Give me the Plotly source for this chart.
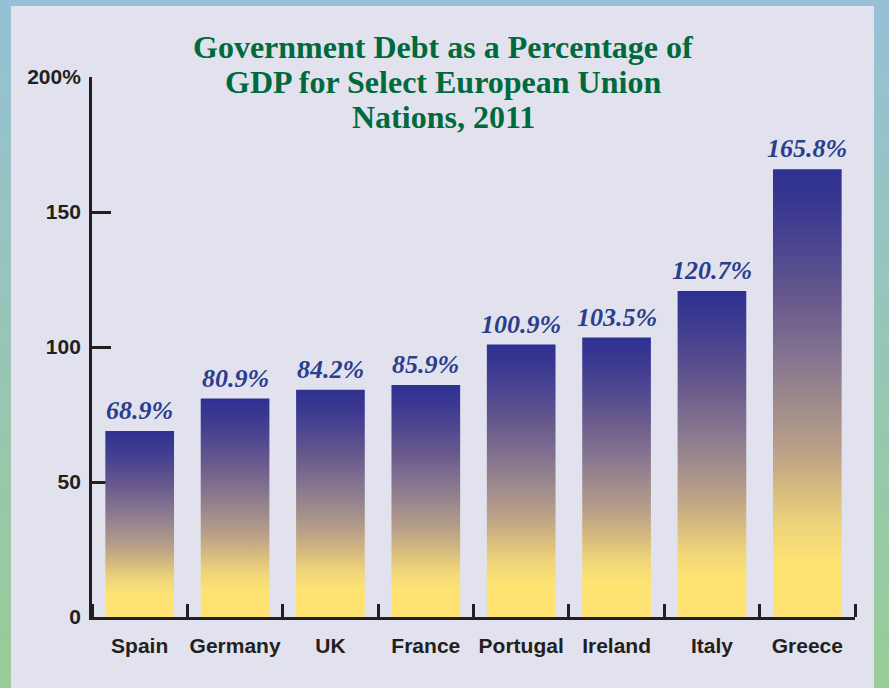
import plotly.graph_objects as go

countries = ["Spain", "Germany", "UK", "France", "Portugal", "Ireland", "Italy", "Greece"]
debt_pct = [68.9, 80.9, 84.2, 85.9, 100.9, 103.5, 120.7, 165.8]
y_tickvals = [0, 50, 100, 150, 200]
y_ticktext = ["0", "50", "100", "150", "200%"]
title_lines = ["Government Debt as a Percentage of", "GDP for Select European Union", "Nations, 2011"]

W, H = 889, 688
AXIS_COLOR = "#231f20"
bar_scale = [
    [0.0, "#fee373"], [0.12, "#fee373"], [0.2, "#efd57a"], [0.28, "#d8bc7e"],
    [0.38, "#b89f88"], [0.48, "#9d8a8c"], [0.58, "#857490"], [0.7, "#6a5b8c"],
    [0.82, "#4e4790"], [0.92, "#3a3890"], [1.0, "#2e3192"],
]

fig = go.Figure()

# background (full paper) on x/y
fig.add_trace(go.Scatter(
    x=[0, 1, 1, 0, 0], y=[0, 0, 1, 1, 0], mode="lines", line=dict(width=0),
    fill="toself", fillgradient=dict(type="vertical", start=0, stop=1,
                                     colorscale=[[0, "#9acb97"], [1, "#96c0d6"]]),
    hoverinfo="skip", showlegend=False, xaxis="x", yaxis="y"))
px0, px1 = 11 / W, 874 / W
py1 = (H - 6) / H
fig.add_trace(go.Scatter(
    x=[px0, px1, px1, px0, px0], y=[-0.01, -0.01, py1, py1, -0.01], mode="lines",
    line=dict(width=0), fill="toself", fillcolor="#e2e2ee",
    hoverinfo="skip", showlegend=False, xaxis="x", yaxis="y"))

# bars as gradient-filled rectangles
half = 0.36
for i, v in enumerate(debt_pct):
    fig.add_trace(go.Scatter(
        x=[i - half, i + half, i + half, i - half, i - half],
        y=[0, 0, v, v, 0], mode="lines", line=dict(width=0), fill="toself",
        fillgradient=dict(type="vertical", start=0, stop=v, colorscale=bar_scale),
        hoverinfo="skip", showlegend=False, xaxis="x2", yaxis="y2"))

annotations = []
for i, v in enumerate(debt_pct):
    annotations.append(dict(
        x=i, y=v, xref="x2", yref="y2", text=f"{v:.1f}%", showarrow=False,
        xanchor="center", yanchor="bottom", yshift=4,
        font=dict(family="Liberation Serif", size=26, color="#2b3e8c",
                  weight="bold", style="italic")))

title_y = [47, 82, 117]
for line, ty in zip(title_lines, title_y):
    annotations.append(dict(
        text=line, xref="paper", yref="paper", x=443 / W, y=(H - ty) / H,
        xanchor="center", yanchor="middle", showarrow=False,
        font=dict(family="Liberation Serif", size=32, color="#006a3e", weight="bold")))

fig.update_layout(
    width=W, height=H, margin=dict(l=0, r=0, t=0, b=0, autoexpand=False),
    paper_bgcolor="#e2e2ee", plot_bgcolor="rgba(0,0,0,0)", showlegend=False,
    xaxis=dict(domain=[0, 1], range=[0, 1], visible=False, fixedrange=True,
               automargin=False),
    yaxis=dict(domain=[0, 1], range=[0, 1], visible=False, fixedrange=True,
               automargin=False),
    xaxis2=dict(domain=[92 / W, 855 / W], range=[-0.5, 7.5], anchor="y2",
                tickvals=list(range(len(countries))), ticktext=countries,
                ticks="", showgrid=False, zeroline=False, automargin=False,
                showline=True, linecolor=AXIS_COLOR, linewidth=2.8,
                minor=dict(ticks="inside", tick0=-0.5, dtick=1, ticklen=13,
                           tickwidth=2.8, tickcolor=AXIS_COLOR, showgrid=False),
                tickfont=dict(family="Liberation Sans", size=21, color=AXIS_COLOR,
                              weight="bold"),
                ticklabelstandoff=8),
    yaxis2=dict(domain=[(H - 617) / H, (H - 77) / H], range=[0, 200], anchor="x2",
                tickvals=y_tickvals, ticktext=y_ticktext, ticks="inside",
                ticklen=19, tickwidth=2.8, tickcolor=AXIS_COLOR, layer="below traces",
                showgrid=False, zeroline=False, showline=True, automargin=False,
                linecolor=AXIS_COLOR, linewidth=2.8,
                tickfont=dict(family="Liberation Sans", size=21, color=AXIS_COLOR,
                              weight="bold"),
                ticklabelstandoff=4),
    annotations=annotations,
)

fig.write_html("out.html")
